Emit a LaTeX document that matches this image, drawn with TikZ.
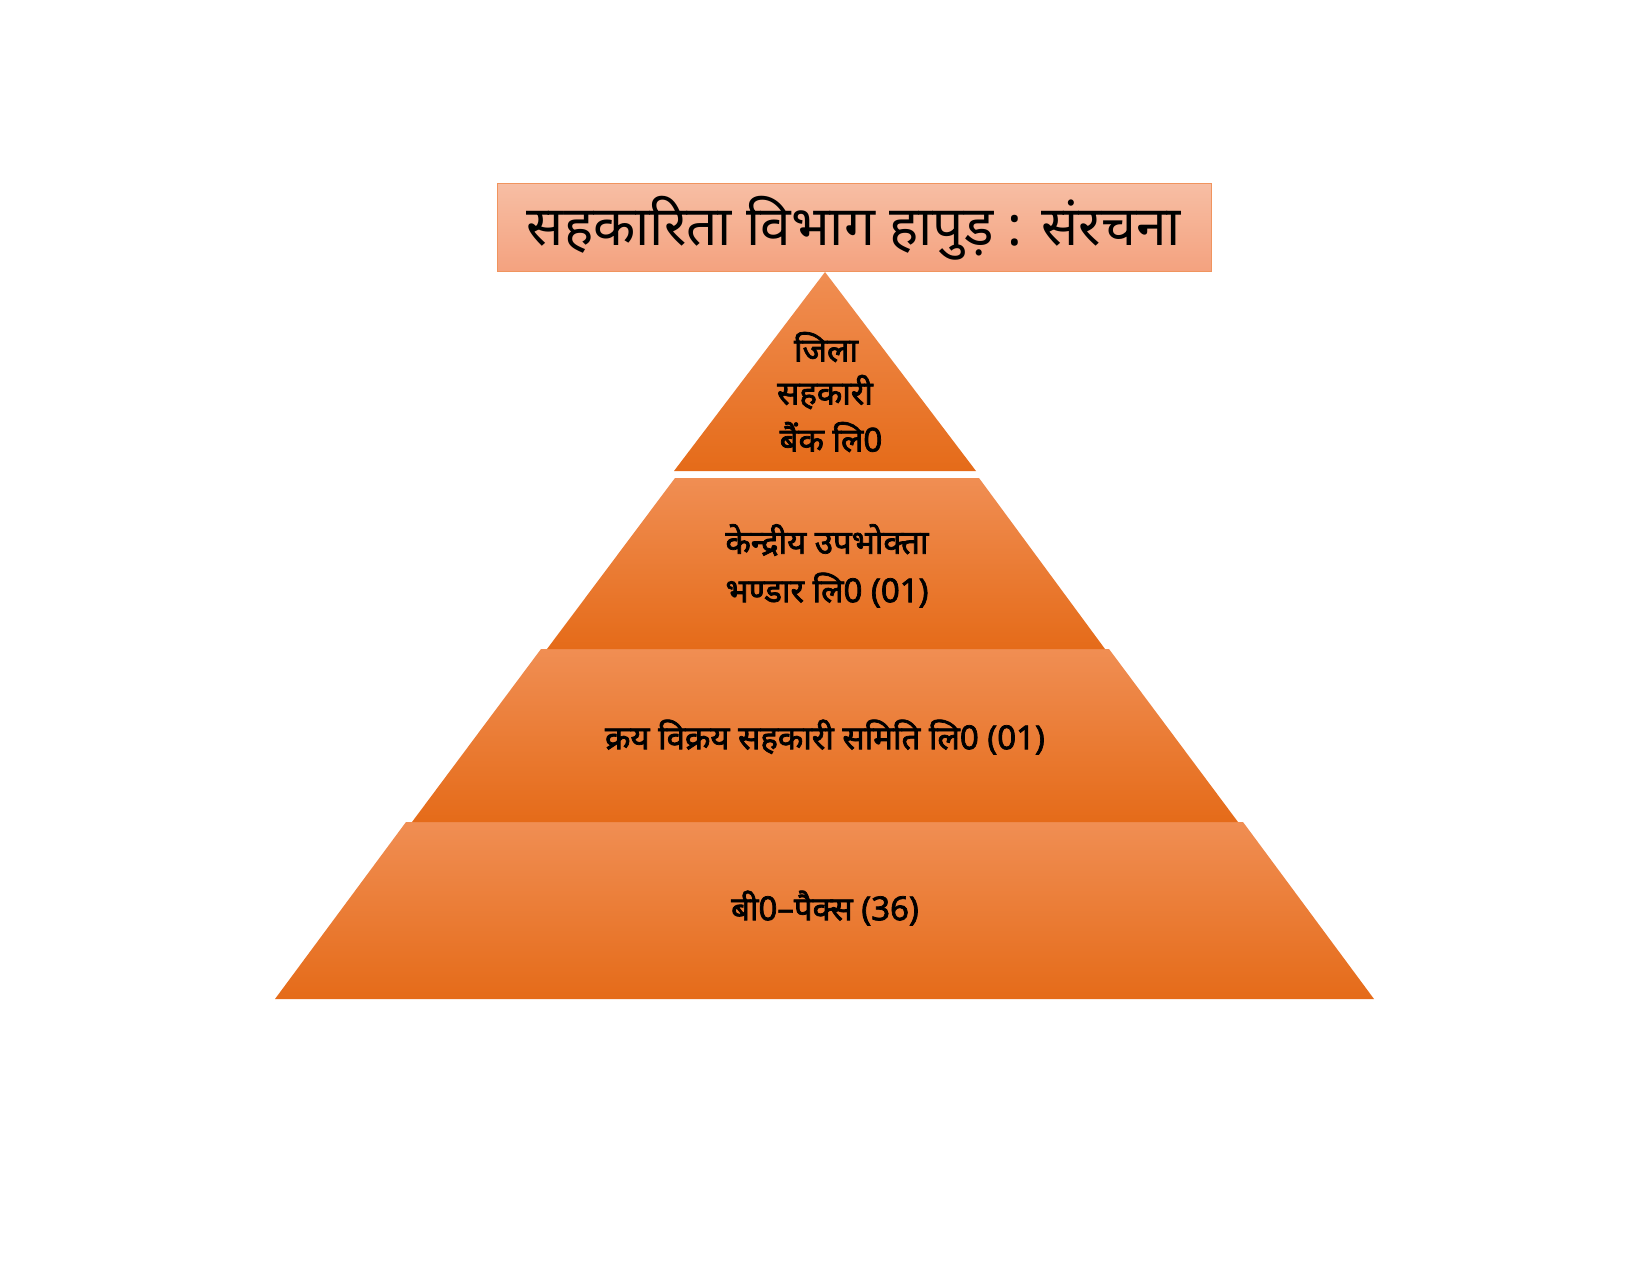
\documentclass[tikz,border=0pt]{standalone}
\usepackage{fontspec}
\setmainfont{Noto Sans}[Script=Devanagari]
\newfontfamily\devbold{Noto Sans}[Script=Devanagari, FakeBold=2.2]
\definecolor{ltop}{HTML}{F08E53}
\definecolor{lmid}{HTML}{F47B28}
\definecolor{lbot}{HTML}{E56B19}
\definecolor{ttop}{HTML}{F7BEA4}
\definecolor{tbot}{HTML}{F4A27F}
\definecolor{tedge}{HTML}{F0945E}
\tikzset{
  layer/.style={top color=ltop, middle color=lmid, bottom color=lbot, draw=none},
  ltext/.style={font=\fontsize{33}{40}\devbold, inner sep=0pt, anchor=center},
  ttext/.style={font=\fontsize{55}{66}\selectfont, inner sep=0pt, anchor=center}
}
\begin{document}
\begin{tikzpicture}[x=1pt,y=-1pt]
\useasboundingbox (0,0) rectangle (1650,1275);
% title box
\path[top color=ttop, bottom color=tbot, draw=tedge, line width=1pt] (497,183) rectangle (1211,271);
\node[ttext] (title) at (854,228) {सहकारिता विभाग हापुड़ : संरचना};
% layers (bottom first)
\path[layer] (406,822) -- (1243,822) -- (1374,999) -- (275,999) -- cycle;
\path[layer] (541,649) -- (1109,649) -- (1238,822) -- (412,822) -- cycle;
\path[layer] (675,478) -- (979,478) -- (1105,649) -- (547,649) -- cycle;
\path[layer] (825,272) -- (976,471) -- (674,471) -- cycle;
% texts
\node[ltext] (l1a) at (826,347) {जिला};
\node[ltext] (l1b) at (825,392) {सहकारी};
\node[ltext] (l1c) at (831,437) {बैंक लि0};
\node[ltext] (l2a) at (827,540) {केन्द्रीय उपभोक्ता};
\node[ltext] (l2b) at (827,590) {भण्डार लि0 (01)};
\node[ltext] (l3) at (825,737) {क्रय विक्रय सहकारी समिति लि0 (01)};
\node[ltext] (l4) at (825,908) {बी0–पैक्स (36)};
\end{tikzpicture}
\end{document}
